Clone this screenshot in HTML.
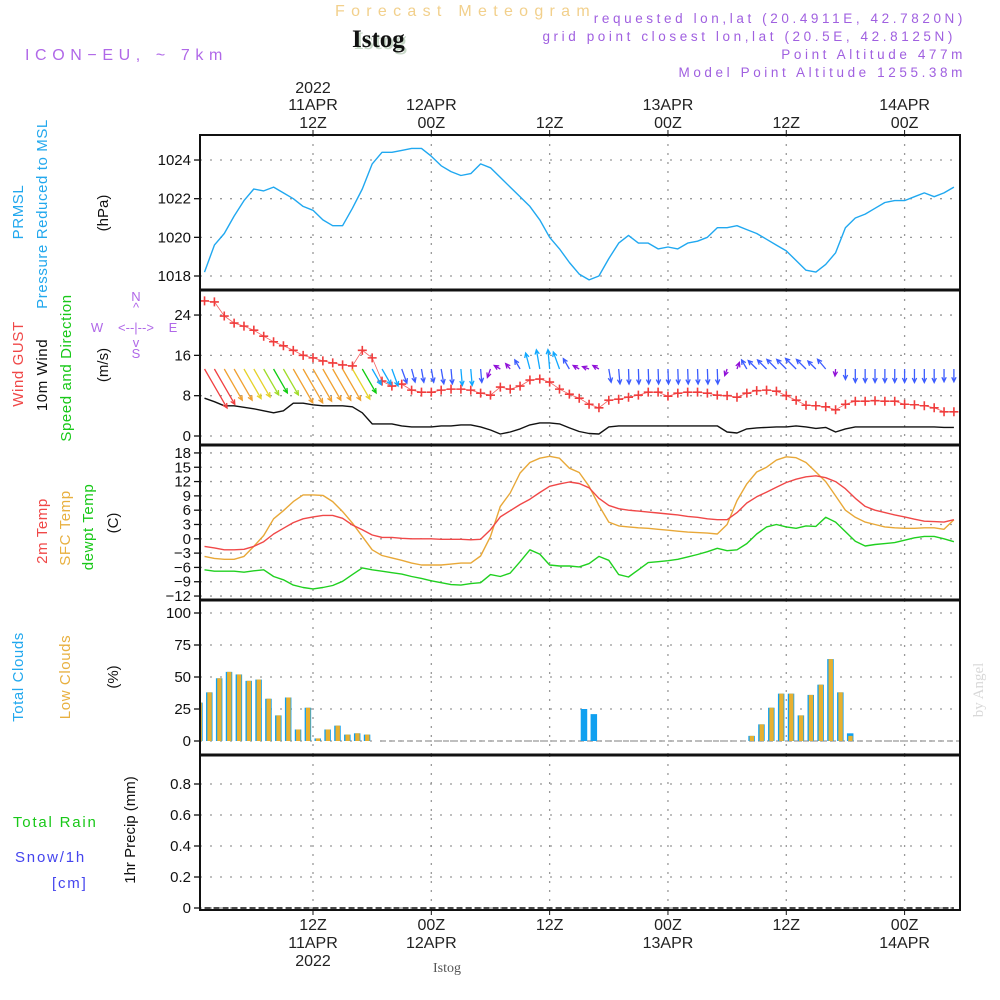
<!DOCTYPE html>
<html><head><meta charset="utf-8">
<style>
html,body{margin:0;padding:0;background:#fff;}
svg{display:block;font-family:"Liberation Sans",sans-serif;}
</style></head>
<body>
<svg id="chart" width="1000" height="1000" viewBox="0 0 1000 1000" xmlns="http://www.w3.org/2000/svg">
<rect width="1000" height="1000" fill="#fff"/>
<text x="335" y="16" font-size="16" fill="#f2d08c" letter-spacing="6.3">Forecast Meteogram</text>
<text x="354" y="49" font-size="25" font-weight="bold" font-family="Liberation Serif,serif" fill="#c8d8c8">Istog</text>
<text x="352" y="47" font-size="25" font-weight="bold" font-family="Liberation Serif,serif" fill="#111">Istog</text>
<text x="25" y="60" font-size="16" fill="#b068e8" letter-spacing="5.6">ICON−EU, ~ 7km</text>
<g font-size="13.5" fill="#a060e0" text-anchor="end" letter-spacing="3.6">
<text x="966" y="23">requested lon,lat (20.4911E, 42.7820N)</text>
<text x="956" y="41">grid point closest lon,lat (20.5E, 42.8125N)</text>
<text x="966" y="59">Point Altitude 477m</text>
<text x="966" y="77">Model Point Altitude 1255.38m</text>
</g>
<g id="grid"></g>
<g id="marks"></g>
<g id="axes"></g>
<g font-size="15">
<text transform="translate(23,212) rotate(-90)" text-anchor="middle" fill="#22a8ee" letter-spacing="0.6">PRMSL</text>
<text transform="translate(47,214) rotate(-90)" text-anchor="middle" fill="#22a8ee" letter-spacing="0.6">Pressure Reduced to MSL</text>
<text transform="translate(108,213) rotate(-90)" text-anchor="middle" fill="#111">(hPa)</text>
<text transform="translate(23,364) rotate(-90)" text-anchor="middle" fill="#f04848" letter-spacing="0.6">Wind GUST</text>
<text transform="translate(47,375) rotate(-90)" text-anchor="middle" fill="#111" letter-spacing="0.6">10m Wind</text>
<text transform="translate(71,368) rotate(-90)" text-anchor="middle" fill="#18c818" letter-spacing="0.6">Speed and Direction</text>
<text transform="translate(108,365) rotate(-90)" text-anchor="middle" fill="#111">(m/s)</text>
<text transform="translate(47,531) rotate(-90)" text-anchor="middle" fill="#f04848" letter-spacing="0.6">2m Temp</text>
<text transform="translate(70,528) rotate(-90)" text-anchor="middle" fill="#e8b040" letter-spacing="0.6">SFC Temp</text>
<text transform="translate(93,527) rotate(-90)" text-anchor="middle" fill="#18c818" letter-spacing="0.6">dewpt Temp</text>
<text transform="translate(118,523) rotate(-90)" text-anchor="middle" fill="#111">(C)</text>
<text transform="translate(23,677) rotate(-90)" text-anchor="middle" fill="#22a8ee" letter-spacing="0.6">Total Clouds</text>
<text transform="translate(70,677) rotate(-90)" text-anchor="middle" fill="#e8b040" letter-spacing="0.6">Low Clouds</text>
<text transform="translate(118,677) rotate(-90)" text-anchor="middle" fill="#111">(%)</text>
<text transform="translate(135,830) rotate(-90)" text-anchor="middle" fill="#111">1hr Precip (mm)</text>
<text x="13" y="827" fill="#18c818" letter-spacing="1.8">Total  Rain</text>
<text x="15" y="862" fill="#4444ee" letter-spacing="1.8">Snow/1h</text>
<text x="52" y="888" fill="#4444ee" letter-spacing="1.8">[cm]</text>
</g>
<g font-size="13" fill="#b068e8" text-anchor="middle">
<text x="136" y="301">N</text><text x="136" y="312">^</text>
<text x="97" y="332">W</text><text x="136" y="332">&lt;--|--&gt;</text><text x="173" y="332">E</text>
<text x="136" y="347">v</text><text x="136" y="358">S</text>
</g>
<text x="447" y="972" font-size="14" font-family="Liberation Serif,serif" fill="#555" text-anchor="middle">Istog</text>
<text transform="translate(983,690) rotate(-90)" font-size="15" font-family="Liberation Serif,serif" fill="#d8d8d8" text-anchor="middle">by Angel</text>
</svg>
<script>
const pressure=[1018.2,1019.6,1020.2,1021.1,1021.9,1022.5,1022.4,1022.6,1022.3,1022.0,
1021.6,1021.4,1020.9,1020.6,1020.6,1021.5,1022.5,1023.8,1024.4,1024.4,
1024.5,1024.6,1024.6,1024.2,1023.7,1023.4,1023.2,1023.3,1023.8,1023.6,
1023.1,1022.6,1022.1,1021.6,1020.9,1020.0,1019.4,1018.7,1018.1,1017.8,
1018.0,1018.9,1019.7,1020.1,1019.7,1019.7,1019.4,1019.5,1019.4,1019.7,
1019.8,1020.0,1020.5,1020.5,1020.6,1020.4,1020.2,1019.9,1019.6,1019.3,
1018.8,1018.3,1018.2,1018.6,1019.2,1020.5,1021.0,1021.2,1021.5,1021.8,
1021.9,1021.9,1022.1,1022.3,1022.1,1022.3,1022.6];
const gust=[26.8,26.6,23.8,22.4,21.8,21.0,19.8,18.7,17.9,17.0,
16.0,15.5,14.9,14.5,14.1,13.9,17.0,15.5,10.9,9.9,
10.3,9.1,8.7,8.7,9.1,9.3,9.3,9.1,8.5,8.1,
9.7,9.3,9.9,11.1,11.3,10.7,9.3,8.3,7.5,6.3,
5.6,7.1,7.3,7.7,8.1,8.7,8.7,7.9,8.5,8.7,
8.7,8.5,8.1,8.0,7.7,8.5,9.0,9.1,8.9,8.0,
7.1,6.1,6.0,5.8,5.2,6.3,6.9,6.9,7.0,6.9,
6.9,6.3,6.2,6.0,5.6,4.8,4.8];
const wind=[7.5,6.8,6.0,6.0,5.7,5.4,5.0,4.6,5.0,6.5,
6.5,6.2,6.0,6.0,6.0,5.8,4.6,2.4,2.4,2.4,
2.0,1.8,1.8,1.8,2.0,2.0,2.2,2.2,1.8,1.2,
0.4,0.8,1.4,2.2,2.6,2.6,2.4,1.6,0.9,0.5,
0.4,1.8,2.0,2.0,2.0,2.0,2.0,2.0,2.0,2.0,
2.0,2.0,2.0,0.8,0.6,1.4,1.6,1.7,1.8,1.8,
2.0,1.8,1.5,1.7,0.8,1.4,1.8,1.8,1.8,1.8,
1.8,1.8,1.8,1.8,1.8,1.7,1.7];
const windDir=[150,150,150,150,150,150,150,150,150,150,150,150,150,150,150,150,150,150,
150,160,160,165,170,170,170,175,175,175,175,200,
300,320,330,345,350,355,340,330,300,290,300,
170,175,178,178,178,178,178,178,178,178,178,178,
200,20,330,315,315,315,315,315,315,315,320,185,
180,180,180,180,180,180,180,180,180,180,180,180];
const temp2m=[-1.6,-1.9,-2.3,-2.3,-2.2,-1.6,-0.6,1.0,2.2,3.4,
4.2,4.6,4.9,4.9,4.3,2.9,1.9,0.8,0.3,0.3,
0.1,0,0,0,-0.1,-0.1,-0.1,-0.2,-0.1,1.9,
4.6,5.9,7.2,8.3,9.7,11.0,11.5,11.9,11.6,10.7,
8.5,7.0,6.3,6.0,5.8,5.6,5.4,5.2,5.0,4.7,
4.5,4.2,4.0,4.0,5.5,7.5,8.8,9.8,10.8,11.8,
12.5,13.0,13.2,12.8,12.0,10.5,8.5,6.8,6.0,5.5,
5.0,4.6,4.1,3.7,3.6,3.5,4.0];
const tempSfc=[-3.7,-4.1,-4.3,-4.3,-3.7,-1.6,0.7,4.2,5.9,7.8,
9.2,9.2,9.1,7.8,5.7,3.3,0.5,-2.3,-3.5,-4.0,
-4.5,-5.1,-5.5,-5.5,-5.5,-5.3,-5.1,-5.1,-3.6,0.5,
6.8,9.6,13.8,16.0,16.9,17.3,16.9,14.8,13.9,11.0,
7.0,3.5,2.7,2.5,2.3,2.2,2.0,1.8,1.6,1.4,
1.3,1.2,1.0,3.0,8.0,11.5,14.0,15.0,16.5,17.2,
17.0,16.0,14.0,12.0,9.0,6.0,4.5,3.5,3.0,2.5,
2.3,2.2,2.2,2.3,2.3,2.0,4.0];
const dewpt=[-6.5,-6.8,-6.8,-6.8,-7.0,-6.7,-6.5,-7.9,-8.6,-9.7,
-10.2,-10.5,-10.2,-9.8,-8.9,-7.5,-6.1,-6.5,-6.8,-7.1,
-7.4,-7.9,-8.3,-8.8,-9.2,-9.6,-9.7,-9.4,-9.2,-7.5,
-7.9,-7.2,-4.8,-2.3,-3.2,-5.5,-5.7,-5.7,-5.9,-5.2,
-3.7,-4.5,-7.5,-8.0,-6.5,-5.0,-4.8,-4.6,-4.3,-3.8,
-3.3,-2.7,-2.0,-2.5,-2.3,-1.0,1.0,2.5,3.0,2.5,
2.2,2.7,2.6,4.5,3.5,1.5,-0.5,-1.5,-1.2,-1.0,
-0.8,-0.3,0.2,0.5,0.5,0.0,-0.6];
const totalClouds=[30,38,49,54,52,47,48,33,20,34,9,26,2,9,12,5,6,5,
0,0,0,0,0,0,0,0,0,0,0,0,0,0,0,0,0,0,0,0,0,25,21,
0,0,0,0,0,0,0,0,0,0,0,0,0,0,0,
4,13,26,37,37,20,36,44,64,38,6,
0,0,0,0,0,0,0,0,0,0,0];
const lowClouds=[30,38,49,54,52,47,48,33,20,34,9,26,2,9,12,5,6,5,
0,0,0,0,0,0,0,0,0,0,0,0,0,0,0,0,0,0,0,0,0,0,0,
0,0,0,0,0,0,0,0,0,0,0,0,0,0,0,
4,13,26,37,37,20,36,44,64,38,4,
0,0,0,0,0,0,0,0,0,0,0];
const precip=[0,0,0,0,0,0,0,0,0,0,0,0,0,0,0,0,0,0,0,0,0,0,0,0,0,0,0,0,0,0,0,0,0,0,0,0,0,0,0,0,0,0,0,0,0,0,0,0,0,0,0,0,0,0,0,0,0,0,0,0,0,0,0,0,0,0,0,0,0,0,0,0,0,0,0,0,0];
const pTicks=[1018,1020,1022,1024];
const wTicks=[0,8,16,24];
const tTicks=[-12,-9,-6,-3,0,3,6,9,12,15,18];
const cTicks=[0,25,50,75,100];
const rTicks=[0,0.2,0.4,0.6,0.8];
const topDay=["11APR","12APR","","13APR","","14APR"];
const topHour=["12Z","00Z","12Z","00Z","12Z","00Z"];
const labelHours=[12,24,36,48,60,72];

const NS="http://www.w3.org/2000/svg";
const L=200,R=960;
const X=t=>313+(t-12)*9.86;
const yP=v=>276-(v-1018)*19.33;
const yW=v=>436-v*5.04;
const yT=v=>538.8-v*4.77;
const yC=v=>741-v*1.28;
const yR=v=>908-v*155;
const panels=[[135,290],[290,445],[445,600],[600,755],[755,910]];
function el(tag,attrs,parent){const e=document.createElementNS(NS,tag);for(const k in attrs)e.setAttribute(k,attrs[k]);parent.appendChild(e);return e;}
const grid=document.getElementById('grid'),marks=document.getElementById('marks'),axes=document.getElementById('axes');
const defs=el('defs',{},document.getElementById('chart'));
const cp=el('clipPath',{id:'plotclip'},defs);el('rect',{x:L,y:135,width:R-L,height:775},cp);
marks.setAttribute('clip-path','url(#plotclip)');

labelHours.forEach(h=>{panels.forEach(p=>{
 const g=el('line',{x1:X(h),x2:X(h),y1:p[0],y2:p[1],stroke:'#999','stroke-dasharray':'2,7','stroke-width':1.3},grid);
 
 
});});
function yaxis(ticks,fy,fmt){
 ticks.forEach(v=>{const y=fy(v);
  const g=el('line',{x1:L,x2:R,y1:y,y2:y,stroke:'#999','stroke-dasharray':'2,8','stroke-width':1.3},grid);
  
  
  el('line',{x1:L-6,x2:L,y1:y,y2:y,stroke:'#111','stroke-width':1.3},axes);
  const t=el('text',{x:L-9,y:y+5,'font-size':15,'text-anchor':'end',fill:'#111'},axes);
  t.textContent=fmt?fmt(v):v;
  
  
 });
}
yaxis(pTicks,yP);yaxis(wTicks,yW);yaxis(tTicks,yT,v=>v<0?'−'+(-v):v);yaxis(cTicks,yC);yaxis(rTicks,yR,v=>v===0?'0':v.toFixed(1));

function line(arr,fy,color,name,w){
 const pts=arr.map((v,i)=>X(i+1).toFixed(1)+','+fy(v).toFixed(1)).join(' ');
 const p=el('polyline',{points:pts,fill:'none',stroke:color,'stroke-width':w||1.4,'stroke-linejoin':'round'},marks);
 
 
}
line(pressure,yP,'#20a8f0','pressure-line');
line(wind,yW,'#111','wind-speed-line');
line(tempSfc,yT,'#e8a838','sfc-temp-line');
line(temp2m,yT,'#f04848','temp-2m-line');
line(dewpt,yT,'#20d020','dewpoint-line');
line(gust,yW,'#f46060','gust-line',0.8);
gust.forEach((v,i)=>{const x=X(i+1),y=yW(v);
 const g=el('path',{d:`M${x-4.5},${y}H${x+4.5}M${x},${y-4.5}V${y+4.5}`,stroke:'#f03c3c','stroke-width':1.6},marks);
 
 
});
function wcol(s){if(s<1.3)return '#9010d8';if(s<2.1)return '#3c5cff';if(s<3)return '#10a8ff';if(s<4.8)return '#10cc10';if(s<5.2)return '#a0dc28';if(s<5.9)return '#e6d22a';if(s<6.8)return '#f0a030';return '#f04040';}
wind.forEach((s,i)=>{const a=windDir[i]*Math.PI/180,len=s>4?6*s:Math.max(7,7.5*s);
 const x0=X(i+1),y0=369,dx=Math.sin(a),dy=-Math.cos(a);
 const x1=x0+dx*len,y1=y0+dy*len,h=5,ang=0.45;
 const bx=-dx,by=-dy;
 const hx1=x1+h*(bx*Math.cos(ang)-by*Math.sin(ang)),hy1=y1+h*(bx*Math.sin(ang)+by*Math.cos(ang));
 const hx2=x1+h*(bx*Math.cos(-ang)-by*Math.sin(-ang)),hy2=y1+h*(bx*Math.sin(-ang)+by*Math.cos(-ang));
 const g=el('path',{d:`M${x0},${y0}L${x1},${y1}M${hx1},${hy1}L${x1},${y1}L${hx2},${hy2}`,stroke:wcol(s),'stroke-width':1.3,fill:'none'},marks);
 
 
});
el('line',{x1:380,x2:R,y1:741,y2:741,stroke:'#999','stroke-dasharray':'6,3','stroke-width':1.2},marks);
totalClouds.forEach((v,i)=>{if(v<=0)return;const x=X(i)+1.5;
 const b=el('rect',{x:x,y:yC(v),width:6.5,height:741-yC(v),fill:'#10a0f0'},marks);
 
 
 const lv=lowClouds[i];if(lv>0){
 const o=el('rect',{x:x+1.3,y:yC(lv),width:4.4,height:741-yC(lv),fill:'#e8b030'},marks);
 
 }
});
const pts=precip.map((v,i)=>X(i+1)+','+yR(v)).join(' ');
const pl=el('polyline',{points:pts,fill:'none',stroke:'#111','stroke-dasharray':'6,3','stroke-width':1.5},marks);


panels.forEach(p=>{el('rect',{x:L,y:p[0],width:R-L,height:p[1]-p[0],fill:'none',stroke:'#111','stroke-width':2},axes);});
[290,445,600,755].forEach(y=>el('line',{x1:L-1,x2:R+1,y1:y,y2:y,stroke:'#111','stroke-width':3},axes));
labelHours.forEach((h,i)=>{const x=X(h);
 el('line',{x1:x,x2:x,y1:130,y2:135,stroke:'#111'},axes);
 el('line',{x1:x,x2:x,y1:910,y2:915,stroke:'#111'},axes);
 const a=el('text',{x:x,y:128,'font-size':16,'text-anchor':'middle',fill:'#222'},axes);a.textContent=topHour[i];
 
 
 if(topDay[i]){const d=el('text',{x:x,y:110,'font-size':16,'text-anchor':'middle',fill:'#222'},axes);d.textContent=topDay[i];
 
 }
 const b=el('text',{x:x,y:930,'font-size':16,'text-anchor':'middle',fill:'#222'},axes);b.textContent=topHour[i];
 
 
 if(topDay[i]){const d=el('text',{x:x,y:948,'font-size':16,'text-anchor':'middle',fill:'#222'},axes);d.textContent=topDay[i];
 
 }
});
const y1=el('text',{x:X(12),y:93,'font-size':16,'text-anchor':'middle',fill:'#222'},axes);y1.textContent='2022';


const y2=el('text',{x:X(12),y:966,'font-size':16,'text-anchor':'middle',fill:'#222'},axes);y2.textContent='2022';


</script>
</body></html>
